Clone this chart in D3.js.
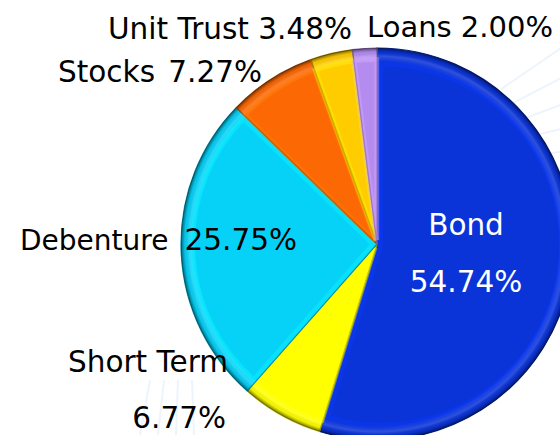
<!DOCTYPE html>
<html>
<head>
<meta charset="utf-8">
<script src="https://cdn.jsdelivr.net/npm/d3@7"></script>
<style>
  html, body { margin: 0; padding: 0; background: #fff; }
  svg { display: block; }
  text { font-family: "DejaVu Sans", Verdana, sans-serif; white-space: pre; }
</style>
</head>
<body>
<div id="chart"></div>
<script>
// data
const categories = ["Bond", "Short Term", "Debenture", "Stocks", "Unit Trust", "Loans"];
const values = [54.74, 6.77, 25.75, 7.27, 3.48, 2.00];
const colors = ["#0a33d8", "#ffff00", "#06d2f8", "#fc6804", "#ffcc00", "#b48cf0"];

const W = 560, H = 435;
const cx = 377, cy = 244, r = 196;

const svg = d3.select("#chart").append("svg")
    .attr("width", W)
    .attr("height", H);

const defs = svg.append("defs");

// rim shading, centred on the pie
const rim = defs.append("radialGradient")
    .attr("id", "rim")
    .attr("gradientUnits", "userSpaceOnUse")
    .attr("cx", 0).attr("cy", 0).attr("r", r);
rim.append("stop").attr("offset", (r - 14) / r).attr("stop-color", "#fff").attr("stop-opacity", 0);
rim.append("stop").attr("offset", (r - 8) / r).attr("stop-color", "#fff").attr("stop-opacity", 0.15);
rim.append("stop").attr("offset", (r - 4) / r).attr("stop-color", "#000").attr("stop-opacity", 0.05);
rim.append("stop").attr("offset", 1).attr("stop-color", "#000").attr("stop-opacity", 0.5);

// faint decorative rays in the background
const bg = svg.append("g").attr("stroke", "#eef4fb").attr("stroke-width", 2);
d3.range(6).forEach(i => {
    const a = -0.6 + i * 0.12;
    bg.append("line")
        .attr("x1", cx + Math.cos(a) * 150).attr("y1", cy + Math.sin(a) * 150 - 70)
        .attr("x2", cx + Math.cos(a) * 320).attr("y2", cy + Math.sin(a) * 320 - 70);
});
d3.range(4).forEach(i => {
    bg.append("line")
        .attr("x1", 150 + i * 14).attr("y1", 380)
        .attr("x2", 140 + i * 18).attr("y2", 435);
});

const pie = d3.pie().sort(null).value(d => d)(values);
const arc = d3.arc().innerRadius(0).outerRadius(r);
const rimArc = d3.arc().innerRadius(r - 14).outerRadius(r);
const innerArc = d3.arc().innerRadius(0).outerRadius(r - 10);

const g = svg.append("g").attr("transform", `translate(${cx},${cy})`);

const slices = g.selectAll("g.slice")
    .data(pie)
    .join("g")
    .attr("class", "slice");

slices.append("path")
    .attr("d", arc)
    .attr("fill", (d, i) => colors[i])
    .attr("stroke", (d, i) => d3.color(colors[i]).darker(1.2))
    .attr("stroke-width", 1.2);

// bevel: lighter band just inside the edges
slices.append("path")
    .attr("d", innerArc)
    .attr("fill", "none")
    .attr("stroke", (d, i) => d3.color(colors[i]).brighter(0.5))
    .attr("stroke-opacity", 0.4)
    .attr("stroke-width", 5)
    .attr("transform", d => {
        const [x, y] = arc.centroid(d);
        return `translate(${x * 0.04},${y * 0.04}) scale(0.97)`;
    });

slices.append("path")
    .attr("d", rimArc)
    .attr("fill", "url(#rim)");

// labels
const pct = i => values[i].toFixed(2) + "%";
const labels = svg.append("g").attr("font-size", 29.5).attr("fill", "#000");

labels.append("text").attr("x", 466).attr("y", 235).attr("text-anchor", "middle")
    .attr("fill", "#fff").text(categories[0]);
labels.append("text").attr("x", 466).attr("y", 292).attr("text-anchor", "middle")
    .attr("fill", "#fff").text(pct(0));

labels.append("text").attr("x", 228).attr("y", 372).attr("text-anchor", "end").text(categories[1]);
labels.append("text").attr("x", 226).attr("y", 428).attr("text-anchor", "end").text(pct(1));

labels.append("text").attr("x", 20).attr("y", 250).attr("font-size", 28).text(categories[2]);
labels.append("text").attr("x", 297).attr("y", 250).attr("text-anchor", "end").text(pct(2));

labels.append("text").attr("x", 58).attr("y", 82).text(categories[3]);
labels.append("text").attr("x", 262).attr("y", 82).attr("text-anchor", "end").text(pct(3));

labels.append("text").attr("x", 352).attr("y", 39).attr("text-anchor", "end")
    .text(categories[4] + " " + pct(4));
labels.append("text").attr("x", 367).attr("y", 37).attr("text-anchor", "start")
    .attr("font-size", 29).text(categories[5] + " " + pct(5));
</script>
</body>
</html>
